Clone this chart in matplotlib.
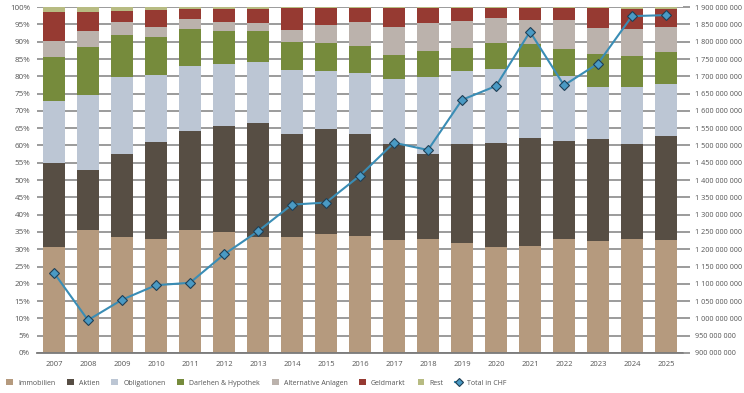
import matplotlib.pyplot as plt
import matplotlib.ticker as mticker
from matplotlib.lines import Line2D
from matplotlib.patches import Patch

plt.rcParams['font.family'] = ['Open Sans', 'DejaVu Sans']

years = [str(y) for y in range(2007, 2026)]

# cumulative tops of each stacked segment, in percent
top_immobilien = [30.7, 35.5, 33.6, 33.0, 35.5, 35.0, 33.6, 33.6, 34.4, 33.8, 32.6, 33.1, 31.7, 30.7, 30.9, 33.1, 32.4, 33.1, 32.7]
top_aktien = [54.8, 52.8, 57.4, 61.1, 64.2, 65.7, 66.4, 63.2, 64.7, 63.4, 60.4, 57.6, 60.3, 60.6, 62.2, 61.2, 61.9, 60.5, 62.8]
top_obligationen = [73.0, 74.7, 79.9, 80.4, 83.0, 83.5, 84.2, 81.9, 81.4, 80.9, 79.2, 79.7, 81.4, 82.1, 82.6, 80.0, 77.0, 77.0, 77.8]
top_darlehen = [85.7, 88.6, 91.9, 91.5, 93.8, 93.2, 93.2, 89.8, 89.5, 88.8, 86.1, 87.3, 88.3, 89.6, 89.4, 88.0, 86.5, 85.9, 87.0]
top_alternative = [90.3, 93.0, 95.6, 94.4, 96.6, 95.7, 95.4, 93.5, 94.7, 95.7, 94.2, 95.4, 96.0, 97.0, 96.3, 96.3, 94.0, 93.8, 94.4]
top_geldmarkt = [98.5, 98.7, 99.0, 99.1, 99.5, 99.4, 99.4, 99.7, 99.7, 99.7, 99.8, 99.8, 99.8, 99.8, 99.8, 99.8, 99.8, 99.4, 99.4]
top_rest = [100.0] * 19

total_chf = [1132e6, 995e6, 1054e6, 1096e6, 1103e6, 1185e6, 1252e6, 1329e6, 1335e6, 1413e6,
             1508e6, 1487e6, 1632e6, 1672e6, 1829e6, 1674e6, 1737e6, 1874e6, 1877e6]

names = ['Immobilien', 'Aktien', 'Obligationen', 'Darlehen & Hypothek',
         'Alternative Anlagen', 'Geldmarkt', 'Rest']
colors = ['#B59A7E', '#574E44', '#BCC6D4', '#768B3C', '#BBB2AC', '#963A32', '#B7BB82']
tops = [top_immobilien, top_aktien, top_obligationen, top_darlehen,
        top_alternative, top_geldmarkt, top_rest]

fig = plt.figure(figsize=(7.44, 3.93), dpi=100)
ax = fig.add_axes([0.0497, 0.1018, 0.8683, 0.8800])
x = list(range(len(years)))

bottom = [0.0] * len(years)
for name, col, top in zip(names, colors, tops):
    h = [t - b for t, b in zip(top, bottom)]
    ax.bar(x, h, bottom=bottom, width=0.62, color=col, zorder=2)
    bottom = top

ax.set_ylim(0, 100)
ax.set_xlim(-0.5, len(years) - 0.5)
ax.set_yticks(range(0, 101, 5))
ax.yaxis.set_major_formatter(mticker.FuncFormatter(lambda v, p: f'{v:.0f}%'))
ax.set_xticks(x)
ax.set_xticklabels(years)
ax.grid(axis='y', color='#8a8a8a', linewidth=1.2, zorder=0)
for s in ['top', 'right', 'left']:
    ax.spines[s].set_visible(False)
ax.spines['bottom'].set_color('#7a7a7a')
ax.spines['bottom'].set_linewidth(1.3)
ax.tick_params(axis='y', length=0, labelsize=5.8, labelcolor='#555555', pad=5)
ax.tick_params(axis='x', length=0, labelsize=5.5, labelcolor='#555555', pad=6)

ax2 = ax.twinx()
ax2.plot(x, total_chf, color='#3A8DB5', linewidth=1.5, marker='D', markersize=5.5,
         markerfacecolor='#4A9AC4', markeredgecolor='#1f3f55', markeredgewidth=0.8, zorder=5)
ax2.set_ylim(900e6, 1900e6)
ax2.set_yticks([900e6 + i * 50e6 for i in range(21)])
ax2.yaxis.set_major_formatter(mticker.FuncFormatter(lambda v, p: f'{v:,.0f}'.replace(',', ' ')))
ax2.tick_params(axis='y', length=5, width=1.2, color='#8a8a8a', labelsize=5.2, labelcolor='#555555', pad=4)
for s in ['top', 'right', 'left', 'bottom']:
    ax2.spines[s].set_visible(False)

handles = [Patch(facecolor=c, edgecolor='none') for c in colors]
handles.append(Line2D([0], [0], color='#3A8DB5', linewidth=1.5, marker='D', markersize=4.5,
                      markerfacecolor='#4A9AC4', markeredgecolor='#1f3f55', markeredgewidth=0.8))
labels = names + ['Total in CHF']
leg = fig.legend(handles, labels, loc='lower left', bbox_to_anchor=(0.0, 0.0), ncol=8,
                 frameon=False, fontsize=5.0, handlelength=1.0, handleheight=1.0,
                 handletextpad=0.7, columnspacing=1.7)
for t in leg.get_texts():
    t.set_color('#555555')

fig.savefig('out.png', dpi=100)
